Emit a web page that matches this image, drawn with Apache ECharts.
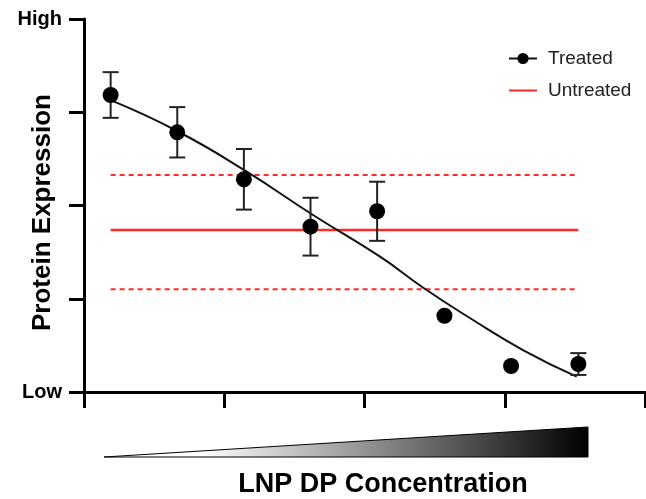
<!DOCTYPE html>
<html>
<head>
<meta charset="utf-8">
<script src="https://cdn.jsdelivr.net/npm/echarts@6/dist/echarts.min.js"></script>
<style>
  html, body { margin: 0; padding: 0; background: #fff; }
  #main { width: 646px; height: 499px; }
</style>
</head>
<body>
<div id="main"></div>
<script>
// treated points (x position in concentration steps, expression level 0=Low .. 4=High)
var doseX = [0.19, 0.665, 1.14, 1.615, 2.09, 2.57, 3.045, 3.525];
var treatedY = [3.185, 2.785, 2.281, 1.773, 1.938, 0.818, 0.279, 0.30];
var treatedErr = [0.245, 0.27, 0.325, 0.31, 0.317, 0, 0, 0.117];

// fitted curve
var fitX = [0.198, 0.663, 1.141, 1.633, 2.111, 2.419, 2.774, 3.13, 3.513];
var fitY = [3.124, 2.799, 2.381, 1.898, 1.451, 1.118, 0.772, 0.45, 0.164];

// untreated mean and band
var untreatedMean = 1.737;
var untreatedHigh = 2.327;
var untreatedLow = 1.101;

var yTickLabels = ['Low', '', '', '', 'High'];

var FONT = 'Liberation Sans, Arial, Helvetica, sans-serif';
var RED = '#ff2b2b';

var chartDom = document.getElementById('main');
var myChart = echarts.init(chartDom);

var pts = doseX.map(function (x, i) { return [x, treatedY[i]]; });
var errs = doseX.map(function (x, i) { return [x, treatedY[i], treatedErr[i]]; });
var fit = fitX.map(function (x, i) { return [x, fitY[i]]; });
var xEnds = [doseX[0], doseX[doseX.length - 1]];
function hline(v) { return xEnds.map(function (x) { return [x, v]; }); }

var option = {
  animation: false,
  grid: { left: 84, right: 1, top: 19, bottom: 107, containLabel: false, outerBoundsMode: 'none' },
  legend: {
    left: 508,
    top: 49,
    padding: 0,
    orient: 'vertical',
    itemWidth: 28,
    itemHeight: 14,
    itemGap: 13,
    textStyle: { fontFamily: FONT, fontSize: 19, color: '#222', padding: [0, 0, 0, 6] },
    data: [
      { name: 'Treated' },
      { name: 'Untreated', icon: 'path://M0,0 L0.1,0 M0,6 L28,6 L28,8 L0,8 Z M0,14 L0.1,14' }
    ]
  },
  xAxis: {
    type: 'value',
    min: 0,
    max: 4,
    interval: 1,
    name: 'LNP DP Concentration',
    nameLocation: 'middle',
    nameGap: 79,
    nameMoveOverlap: false,
    nameTextStyle: { fontFamily: FONT, fontSize: 27, fontWeight: 'bold', color: '#000', padding: [0, 0, 0, 37] },
    axisLine: { lineStyle: { color: '#000', width: 3 } },
    axisTick: { show: true, length: 16, inside: false, lineStyle: { color: '#000', width: 3 } },
    axisLabel: { show: false },
    splitLine: { show: false }
  },
  yAxis: {
    type: 'value',
    min: 0,
    max: 4,
    interval: 1,
    name: 'Protein Expression',
    nameLocation: 'middle',
    nameGap: 28,
    nameMoveOverlap: false,
    nameTextStyle: { fontFamily: FONT, fontSize: 26, fontWeight: 'bold', color: '#000', padding: [0, 14, 0, 0] },
    axisLine: { lineStyle: { color: '#000', width: 3 } },
    axisTick: { show: true, length: 15, lineStyle: { color: '#000', width: 3 } },
    axisLabel: {
      margin: 22,
      fontFamily: FONT,
      fontSize: 20,
      fontWeight: 'bold',
      color: '#000',
      formatter: function (v) { return yTickLabels[Math.round(v)]; }
    },
    splitLine: { show: false }
  },
  series: [
    {
      name: 'Untreated',
      type: 'line',
      data: hline(untreatedMean),
      symbol: 'none',
      lineStyle: { color: RED, width: 2.5 },
      itemStyle: { color: RED },
      z: 1
    },
    {
      name: 'Untreated',
      type: 'line',
      data: hline(untreatedHigh),
      symbol: 'none',
      lineStyle: { color: RED, width: 2, type: [5, 4] },
      itemStyle: { color: RED },
      z: 1
    },
    {
      name: 'Untreated',
      type: 'line',
      data: hline(untreatedLow),
      symbol: 'none',
      lineStyle: { color: RED, width: 2, type: [5, 4] },
      itemStyle: { color: RED },
      z: 1
    },
    {
      name: 'Treated',
      type: 'line',
      data: fit,
      smooth: 0.5,
      symbol: 'circle',
      showSymbol: false,
      lineStyle: { color: '#111', width: 2 },
      itemStyle: { color: '#000' },
      z: 3
    },
    {
      name: 'Treated',
      type: 'custom',
      data: errs,
      renderItem: function (params, api) {
        var x = api.value(0), y = api.value(1), e = api.value(2);
        if (!e) return null;
        var top = api.coord([x, y + e]);
        var bot = api.coord([x, y - e]);
        var w = 8;
        var st = { stroke: '#222', lineWidth: 2 };
        return {
          type: 'group',
          children: [
            { type: 'line', shape: { x1: top[0], y1: top[1], x2: bot[0], y2: bot[1] }, style: st },
            { type: 'line', shape: { x1: top[0] - w, y1: top[1], x2: top[0] + w, y2: top[1] }, style: st },
            { type: 'line', shape: { x1: bot[0] - w, y1: bot[1], x2: bot[0] + w, y2: bot[1] }, style: st }
          ]
        };
      },
      z: 4
    },
    {
      name: 'Treated',
      type: 'scatter',
      data: pts,
      symbol: 'circle',
      symbolSize: 16,
      itemStyle: { color: '#000', opacity: 1 },
      z: 5
    }
  ],
  graphic: [
    {
      type: 'polygon',
      shape: { points: [[104, 457], [588, 427], [588, 457]] },
      style: {
        stroke: '#000',
        lineWidth: 1,
        fill: new echarts.graphic.LinearGradient(0, 0, 1, 0, [
          { offset: 0, color: '#ffffff' },
          { offset: 0.2, color: '#ffffff' },
          { offset: 1, color: '#000000' }
        ])
      }
    }
  ]
};

myChart.setOption(option);
</script>
</body>
</html>
